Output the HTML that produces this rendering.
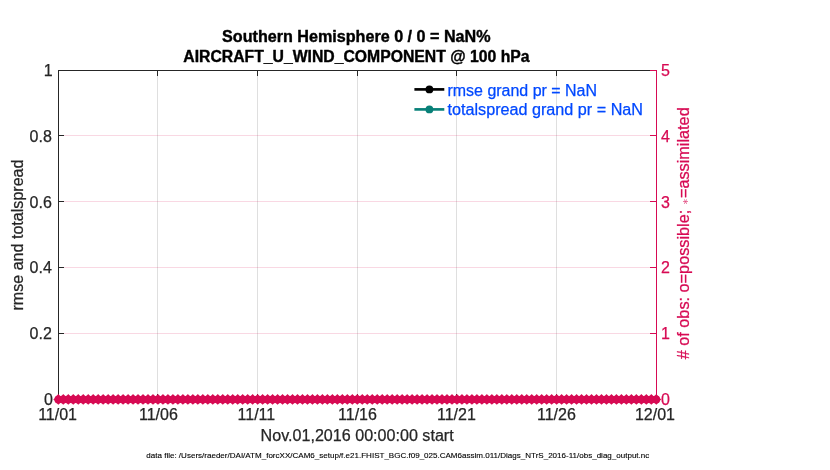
<!DOCTYPE html>
<html lang="en"><head><meta charset="utf-8"><title>obs_diag evolution</title>
<style>html,body{margin:0;padding:0;background:#fff;overflow:hidden}svg{display:block}text{font-family:"Liberation Sans",Arial,Helvetica,sans-serif;font-size:16px;fill:#262626;stroke:#262626;stroke-width:.25px;stroke-linejoin:round}.k{fill:#000;stroke:#000}.t{fill:#000;stroke:#000;stroke-width:.4px}.c{fill:#D70A53;stroke:#D70A53}.b{fill:#0048ff;stroke:#0048ff}.f{font-size:8px;fill:#000;stroke:#000;stroke-width:.12px}</style></head><body>
<svg width="830" height="470" viewBox="0 0 830 470">
<rect width="830" height="470" fill="#fff"/>
<g stroke="#262626" stroke-opacity="0.15" stroke-width="1" shape-rendering="crispEdges">
<line x1="157.5" y1="70.5" x2="157.5" y2="399.5"/>
<line x1="257.5" y1="70.5" x2="257.5" y2="399.5"/>
<line x1="357.5" y1="70.5" x2="357.5" y2="399.5"/>
<line x1="456.5" y1="70.5" x2="456.5" y2="399.5"/>
<line x1="556.5" y1="70.5" x2="556.5" y2="399.5"/>
</g>
<g stroke="#D70A53" stroke-opacity="0.16" stroke-width="1" shape-rendering="crispEdges">
<line x1="58.5" y1="135.5" x2="656.5" y2="135.5"/>
<line x1="58.5" y1="201.5" x2="656.5" y2="201.5"/>
<line x1="58.5" y1="267.5" x2="656.5" y2="267.5"/>
<line x1="58.5" y1="333.5" x2="656.5" y2="333.5"/>
</g>
<g stroke="#262626" stroke-width="1" fill="none" shape-rendering="crispEdges">
<path d="M58.0 70.5H656.5M58.0 399.5H656.5M58.5 70.0V400.0"/>
<line x1="157.5" y1="71.0" x2="157.5" y2="76.0"/>
<line x1="157.5" y1="399.0" x2="157.5" y2="394.0"/>
<line x1="257.5" y1="71.0" x2="257.5" y2="76.0"/>
<line x1="257.5" y1="399.0" x2="257.5" y2="394.0"/>
<line x1="357.5" y1="71.0" x2="357.5" y2="76.0"/>
<line x1="357.5" y1="399.0" x2="357.5" y2="394.0"/>
<line x1="456.5" y1="71.0" x2="456.5" y2="76.0"/>
<line x1="456.5" y1="399.0" x2="456.5" y2="394.0"/>
<line x1="556.5" y1="71.0" x2="556.5" y2="76.0"/>
<line x1="556.5" y1="399.0" x2="556.5" y2="394.0"/>
<line x1="59.0" y1="135.5" x2="64.0" y2="135.5"/>
<line x1="59.0" y1="201.5" x2="64.0" y2="201.5"/>
<line x1="59.0" y1="267.5" x2="64.0" y2="267.5"/>
<line x1="59.0" y1="333.5" x2="64.0" y2="333.5"/>
</g>
<g stroke="#D70A53" stroke-width="1" fill="none" shape-rendering="crispEdges">
<line x1="656.5" y1="70.0" x2="656.5" y2="400.0"/>
<line x1="650.0" y1="70.5" x2="656.0" y2="70.5"/>
<line x1="650.0" y1="135.5" x2="656.0" y2="135.5"/>
<line x1="650.0" y1="201.5" x2="656.0" y2="201.5"/>
<line x1="650.0" y1="267.5" x2="656.0" y2="267.5"/>
<line x1="650.0" y1="333.5" x2="656.0" y2="333.5"/>
<line x1="650.0" y1="399.5" x2="656.0" y2="399.5"/>
</g>
<g fill="#D70A53" stroke="none">
<circle cx="58.30" cy="399.45" r="3.9"/>
<circle cx="63.28" cy="399.45" r="3.9"/>
<circle cx="68.27" cy="399.45" r="3.9"/>
<circle cx="73.25" cy="399.45" r="3.9"/>
<circle cx="78.23" cy="399.45" r="3.9"/>
<circle cx="83.22" cy="399.45" r="3.9"/>
<circle cx="88.20" cy="399.45" r="3.9"/>
<circle cx="93.18" cy="399.45" r="3.9"/>
<circle cx="98.17" cy="399.45" r="3.9"/>
<circle cx="103.15" cy="399.45" r="3.9"/>
<circle cx="108.13" cy="399.45" r="3.9"/>
<circle cx="113.12" cy="399.45" r="3.9"/>
<circle cx="118.10" cy="399.45" r="3.9"/>
<circle cx="123.08" cy="399.45" r="3.9"/>
<circle cx="128.07" cy="399.45" r="3.9"/>
<circle cx="133.05" cy="399.45" r="3.9"/>
<circle cx="138.03" cy="399.45" r="3.9"/>
<circle cx="143.02" cy="399.45" r="3.9"/>
<circle cx="148.00" cy="399.45" r="3.9"/>
<circle cx="152.98" cy="399.45" r="3.9"/>
<circle cx="157.97" cy="399.45" r="3.9"/>
<circle cx="162.95" cy="399.45" r="3.9"/>
<circle cx="167.93" cy="399.45" r="3.9"/>
<circle cx="172.92" cy="399.45" r="3.9"/>
<circle cx="177.90" cy="399.45" r="3.9"/>
<circle cx="182.88" cy="399.45" r="3.9"/>
<circle cx="187.87" cy="399.45" r="3.9"/>
<circle cx="192.85" cy="399.45" r="3.9"/>
<circle cx="197.83" cy="399.45" r="3.9"/>
<circle cx="202.82" cy="399.45" r="3.9"/>
<circle cx="207.80" cy="399.45" r="3.9"/>
<circle cx="212.78" cy="399.45" r="3.9"/>
<circle cx="217.77" cy="399.45" r="3.9"/>
<circle cx="222.75" cy="399.45" r="3.9"/>
<circle cx="227.73" cy="399.45" r="3.9"/>
<circle cx="232.72" cy="399.45" r="3.9"/>
<circle cx="237.70" cy="399.45" r="3.9"/>
<circle cx="242.68" cy="399.45" r="3.9"/>
<circle cx="247.67" cy="399.45" r="3.9"/>
<circle cx="252.65" cy="399.45" r="3.9"/>
<circle cx="257.63" cy="399.45" r="3.9"/>
<circle cx="262.62" cy="399.45" r="3.9"/>
<circle cx="267.60" cy="399.45" r="3.9"/>
<circle cx="272.58" cy="399.45" r="3.9"/>
<circle cx="277.57" cy="399.45" r="3.9"/>
<circle cx="282.55" cy="399.45" r="3.9"/>
<circle cx="287.53" cy="399.45" r="3.9"/>
<circle cx="292.52" cy="399.45" r="3.9"/>
<circle cx="297.50" cy="399.45" r="3.9"/>
<circle cx="302.48" cy="399.45" r="3.9"/>
<circle cx="307.47" cy="399.45" r="3.9"/>
<circle cx="312.45" cy="399.45" r="3.9"/>
<circle cx="317.43" cy="399.45" r="3.9"/>
<circle cx="322.42" cy="399.45" r="3.9"/>
<circle cx="327.40" cy="399.45" r="3.9"/>
<circle cx="332.38" cy="399.45" r="3.9"/>
<circle cx="337.37" cy="399.45" r="3.9"/>
<circle cx="342.35" cy="399.45" r="3.9"/>
<circle cx="347.33" cy="399.45" r="3.9"/>
<circle cx="352.32" cy="399.45" r="3.9"/>
<circle cx="357.30" cy="399.45" r="3.9"/>
<circle cx="362.28" cy="399.45" r="3.9"/>
<circle cx="367.27" cy="399.45" r="3.9"/>
<circle cx="372.25" cy="399.45" r="3.9"/>
<circle cx="377.23" cy="399.45" r="3.9"/>
<circle cx="382.22" cy="399.45" r="3.9"/>
<circle cx="387.20" cy="399.45" r="3.9"/>
<circle cx="392.18" cy="399.45" r="3.9"/>
<circle cx="397.17" cy="399.45" r="3.9"/>
<circle cx="402.15" cy="399.45" r="3.9"/>
<circle cx="407.13" cy="399.45" r="3.9"/>
<circle cx="412.12" cy="399.45" r="3.9"/>
<circle cx="417.10" cy="399.45" r="3.9"/>
<circle cx="422.08" cy="399.45" r="3.9"/>
<circle cx="427.07" cy="399.45" r="3.9"/>
<circle cx="432.05" cy="399.45" r="3.9"/>
<circle cx="437.03" cy="399.45" r="3.9"/>
<circle cx="442.02" cy="399.45" r="3.9"/>
<circle cx="447.00" cy="399.45" r="3.9"/>
<circle cx="451.98" cy="399.45" r="3.9"/>
<circle cx="456.97" cy="399.45" r="3.9"/>
<circle cx="461.95" cy="399.45" r="3.9"/>
<circle cx="466.93" cy="399.45" r="3.9"/>
<circle cx="471.92" cy="399.45" r="3.9"/>
<circle cx="476.90" cy="399.45" r="3.9"/>
<circle cx="481.88" cy="399.45" r="3.9"/>
<circle cx="486.87" cy="399.45" r="3.9"/>
<circle cx="491.85" cy="399.45" r="3.9"/>
<circle cx="496.83" cy="399.45" r="3.9"/>
<circle cx="501.82" cy="399.45" r="3.9"/>
<circle cx="506.80" cy="399.45" r="3.9"/>
<circle cx="511.78" cy="399.45" r="3.9"/>
<circle cx="516.77" cy="399.45" r="3.9"/>
<circle cx="521.75" cy="399.45" r="3.9"/>
<circle cx="526.73" cy="399.45" r="3.9"/>
<circle cx="531.72" cy="399.45" r="3.9"/>
<circle cx="536.70" cy="399.45" r="3.9"/>
<circle cx="541.68" cy="399.45" r="3.9"/>
<circle cx="546.67" cy="399.45" r="3.9"/>
<circle cx="551.65" cy="399.45" r="3.9"/>
<circle cx="556.63" cy="399.45" r="3.9"/>
<circle cx="561.62" cy="399.45" r="3.9"/>
<circle cx="566.60" cy="399.45" r="3.9"/>
<circle cx="571.58" cy="399.45" r="3.9"/>
<circle cx="576.57" cy="399.45" r="3.9"/>
<circle cx="581.55" cy="399.45" r="3.9"/>
<circle cx="586.53" cy="399.45" r="3.9"/>
<circle cx="591.52" cy="399.45" r="3.9"/>
<circle cx="596.50" cy="399.45" r="3.9"/>
<circle cx="601.48" cy="399.45" r="3.9"/>
<circle cx="606.47" cy="399.45" r="3.9"/>
<circle cx="611.45" cy="399.45" r="3.9"/>
<circle cx="616.43" cy="399.45" r="3.9"/>
<circle cx="621.42" cy="399.45" r="3.9"/>
<circle cx="626.40" cy="399.45" r="3.9"/>
<circle cx="631.38" cy="399.45" r="3.9"/>
<circle cx="636.37" cy="399.45" r="3.9"/>
<circle cx="641.35" cy="399.45" r="3.9"/>
<circle cx="646.33" cy="399.45" r="3.9"/>
<circle cx="651.32" cy="399.45" r="3.9"/>
<circle cx="656.30" cy="399.45" r="3.9"/>
<path d="M58.30 394.05l2.5 2.65v5.5l-2.5 2.65l-2.5 -2.65v-5.5z"/>
<path d="M63.28 394.05l2.5 2.65v5.5l-2.5 2.65l-2.5 -2.65v-5.5z"/>
<path d="M68.27 394.05l2.5 2.65v5.5l-2.5 2.65l-2.5 -2.65v-5.5z"/>
<path d="M73.25 394.05l2.5 2.65v5.5l-2.5 2.65l-2.5 -2.65v-5.5z"/>
<path d="M78.23 394.05l2.5 2.65v5.5l-2.5 2.65l-2.5 -2.65v-5.5z"/>
<path d="M83.22 394.05l2.5 2.65v5.5l-2.5 2.65l-2.5 -2.65v-5.5z"/>
<path d="M88.20 394.05l2.5 2.65v5.5l-2.5 2.65l-2.5 -2.65v-5.5z"/>
<path d="M93.18 394.05l2.5 2.65v5.5l-2.5 2.65l-2.5 -2.65v-5.5z"/>
<path d="M98.17 394.05l2.5 2.65v5.5l-2.5 2.65l-2.5 -2.65v-5.5z"/>
<path d="M103.15 394.05l2.5 2.65v5.5l-2.5 2.65l-2.5 -2.65v-5.5z"/>
<path d="M108.13 394.05l2.5 2.65v5.5l-2.5 2.65l-2.5 -2.65v-5.5z"/>
<path d="M113.12 394.05l2.5 2.65v5.5l-2.5 2.65l-2.5 -2.65v-5.5z"/>
<path d="M118.10 394.05l2.5 2.65v5.5l-2.5 2.65l-2.5 -2.65v-5.5z"/>
<path d="M123.08 394.05l2.5 2.65v5.5l-2.5 2.65l-2.5 -2.65v-5.5z"/>
<path d="M128.07 394.05l2.5 2.65v5.5l-2.5 2.65l-2.5 -2.65v-5.5z"/>
<path d="M133.05 394.05l2.5 2.65v5.5l-2.5 2.65l-2.5 -2.65v-5.5z"/>
<path d="M138.03 394.05l2.5 2.65v5.5l-2.5 2.65l-2.5 -2.65v-5.5z"/>
<path d="M143.02 394.05l2.5 2.65v5.5l-2.5 2.65l-2.5 -2.65v-5.5z"/>
<path d="M148.00 394.05l2.5 2.65v5.5l-2.5 2.65l-2.5 -2.65v-5.5z"/>
<path d="M152.98 394.05l2.5 2.65v5.5l-2.5 2.65l-2.5 -2.65v-5.5z"/>
<path d="M157.97 394.05l2.5 2.65v5.5l-2.5 2.65l-2.5 -2.65v-5.5z"/>
<path d="M162.95 394.05l2.5 2.65v5.5l-2.5 2.65l-2.5 -2.65v-5.5z"/>
<path d="M167.93 394.05l2.5 2.65v5.5l-2.5 2.65l-2.5 -2.65v-5.5z"/>
<path d="M172.92 394.05l2.5 2.65v5.5l-2.5 2.65l-2.5 -2.65v-5.5z"/>
<path d="M177.90 394.05l2.5 2.65v5.5l-2.5 2.65l-2.5 -2.65v-5.5z"/>
<path d="M182.88 394.05l2.5 2.65v5.5l-2.5 2.65l-2.5 -2.65v-5.5z"/>
<path d="M187.87 394.05l2.5 2.65v5.5l-2.5 2.65l-2.5 -2.65v-5.5z"/>
<path d="M192.85 394.05l2.5 2.65v5.5l-2.5 2.65l-2.5 -2.65v-5.5z"/>
<path d="M197.83 394.05l2.5 2.65v5.5l-2.5 2.65l-2.5 -2.65v-5.5z"/>
<path d="M202.82 394.05l2.5 2.65v5.5l-2.5 2.65l-2.5 -2.65v-5.5z"/>
<path d="M207.80 394.05l2.5 2.65v5.5l-2.5 2.65l-2.5 -2.65v-5.5z"/>
<path d="M212.78 394.05l2.5 2.65v5.5l-2.5 2.65l-2.5 -2.65v-5.5z"/>
<path d="M217.77 394.05l2.5 2.65v5.5l-2.5 2.65l-2.5 -2.65v-5.5z"/>
<path d="M222.75 394.05l2.5 2.65v5.5l-2.5 2.65l-2.5 -2.65v-5.5z"/>
<path d="M227.73 394.05l2.5 2.65v5.5l-2.5 2.65l-2.5 -2.65v-5.5z"/>
<path d="M232.72 394.05l2.5 2.65v5.5l-2.5 2.65l-2.5 -2.65v-5.5z"/>
<path d="M237.70 394.05l2.5 2.65v5.5l-2.5 2.65l-2.5 -2.65v-5.5z"/>
<path d="M242.68 394.05l2.5 2.65v5.5l-2.5 2.65l-2.5 -2.65v-5.5z"/>
<path d="M247.67 394.05l2.5 2.65v5.5l-2.5 2.65l-2.5 -2.65v-5.5z"/>
<path d="M252.65 394.05l2.5 2.65v5.5l-2.5 2.65l-2.5 -2.65v-5.5z"/>
<path d="M257.63 394.05l2.5 2.65v5.5l-2.5 2.65l-2.5 -2.65v-5.5z"/>
<path d="M262.62 394.05l2.5 2.65v5.5l-2.5 2.65l-2.5 -2.65v-5.5z"/>
<path d="M267.60 394.05l2.5 2.65v5.5l-2.5 2.65l-2.5 -2.65v-5.5z"/>
<path d="M272.58 394.05l2.5 2.65v5.5l-2.5 2.65l-2.5 -2.65v-5.5z"/>
<path d="M277.57 394.05l2.5 2.65v5.5l-2.5 2.65l-2.5 -2.65v-5.5z"/>
<path d="M282.55 394.05l2.5 2.65v5.5l-2.5 2.65l-2.5 -2.65v-5.5z"/>
<path d="M287.53 394.05l2.5 2.65v5.5l-2.5 2.65l-2.5 -2.65v-5.5z"/>
<path d="M292.52 394.05l2.5 2.65v5.5l-2.5 2.65l-2.5 -2.65v-5.5z"/>
<path d="M297.50 394.05l2.5 2.65v5.5l-2.5 2.65l-2.5 -2.65v-5.5z"/>
<path d="M302.48 394.05l2.5 2.65v5.5l-2.5 2.65l-2.5 -2.65v-5.5z"/>
<path d="M307.47 394.05l2.5 2.65v5.5l-2.5 2.65l-2.5 -2.65v-5.5z"/>
<path d="M312.45 394.05l2.5 2.65v5.5l-2.5 2.65l-2.5 -2.65v-5.5z"/>
<path d="M317.43 394.05l2.5 2.65v5.5l-2.5 2.65l-2.5 -2.65v-5.5z"/>
<path d="M322.42 394.05l2.5 2.65v5.5l-2.5 2.65l-2.5 -2.65v-5.5z"/>
<path d="M327.40 394.05l2.5 2.65v5.5l-2.5 2.65l-2.5 -2.65v-5.5z"/>
<path d="M332.38 394.05l2.5 2.65v5.5l-2.5 2.65l-2.5 -2.65v-5.5z"/>
<path d="M337.37 394.05l2.5 2.65v5.5l-2.5 2.65l-2.5 -2.65v-5.5z"/>
<path d="M342.35 394.05l2.5 2.65v5.5l-2.5 2.65l-2.5 -2.65v-5.5z"/>
<path d="M347.33 394.05l2.5 2.65v5.5l-2.5 2.65l-2.5 -2.65v-5.5z"/>
<path d="M352.32 394.05l2.5 2.65v5.5l-2.5 2.65l-2.5 -2.65v-5.5z"/>
<path d="M357.30 394.05l2.5 2.65v5.5l-2.5 2.65l-2.5 -2.65v-5.5z"/>
<path d="M362.28 394.05l2.5 2.65v5.5l-2.5 2.65l-2.5 -2.65v-5.5z"/>
<path d="M367.27 394.05l2.5 2.65v5.5l-2.5 2.65l-2.5 -2.65v-5.5z"/>
<path d="M372.25 394.05l2.5 2.65v5.5l-2.5 2.65l-2.5 -2.65v-5.5z"/>
<path d="M377.23 394.05l2.5 2.65v5.5l-2.5 2.65l-2.5 -2.65v-5.5z"/>
<path d="M382.22 394.05l2.5 2.65v5.5l-2.5 2.65l-2.5 -2.65v-5.5z"/>
<path d="M387.20 394.05l2.5 2.65v5.5l-2.5 2.65l-2.5 -2.65v-5.5z"/>
<path d="M392.18 394.05l2.5 2.65v5.5l-2.5 2.65l-2.5 -2.65v-5.5z"/>
<path d="M397.17 394.05l2.5 2.65v5.5l-2.5 2.65l-2.5 -2.65v-5.5z"/>
<path d="M402.15 394.05l2.5 2.65v5.5l-2.5 2.65l-2.5 -2.65v-5.5z"/>
<path d="M407.13 394.05l2.5 2.65v5.5l-2.5 2.65l-2.5 -2.65v-5.5z"/>
<path d="M412.12 394.05l2.5 2.65v5.5l-2.5 2.65l-2.5 -2.65v-5.5z"/>
<path d="M417.10 394.05l2.5 2.65v5.5l-2.5 2.65l-2.5 -2.65v-5.5z"/>
<path d="M422.08 394.05l2.5 2.65v5.5l-2.5 2.65l-2.5 -2.65v-5.5z"/>
<path d="M427.07 394.05l2.5 2.65v5.5l-2.5 2.65l-2.5 -2.65v-5.5z"/>
<path d="M432.05 394.05l2.5 2.65v5.5l-2.5 2.65l-2.5 -2.65v-5.5z"/>
<path d="M437.03 394.05l2.5 2.65v5.5l-2.5 2.65l-2.5 -2.65v-5.5z"/>
<path d="M442.02 394.05l2.5 2.65v5.5l-2.5 2.65l-2.5 -2.65v-5.5z"/>
<path d="M447.00 394.05l2.5 2.65v5.5l-2.5 2.65l-2.5 -2.65v-5.5z"/>
<path d="M451.98 394.05l2.5 2.65v5.5l-2.5 2.65l-2.5 -2.65v-5.5z"/>
<path d="M456.97 394.05l2.5 2.65v5.5l-2.5 2.65l-2.5 -2.65v-5.5z"/>
<path d="M461.95 394.05l2.5 2.65v5.5l-2.5 2.65l-2.5 -2.65v-5.5z"/>
<path d="M466.93 394.05l2.5 2.65v5.5l-2.5 2.65l-2.5 -2.65v-5.5z"/>
<path d="M471.92 394.05l2.5 2.65v5.5l-2.5 2.65l-2.5 -2.65v-5.5z"/>
<path d="M476.90 394.05l2.5 2.65v5.5l-2.5 2.65l-2.5 -2.65v-5.5z"/>
<path d="M481.88 394.05l2.5 2.65v5.5l-2.5 2.65l-2.5 -2.65v-5.5z"/>
<path d="M486.87 394.05l2.5 2.65v5.5l-2.5 2.65l-2.5 -2.65v-5.5z"/>
<path d="M491.85 394.05l2.5 2.65v5.5l-2.5 2.65l-2.5 -2.65v-5.5z"/>
<path d="M496.83 394.05l2.5 2.65v5.5l-2.5 2.65l-2.5 -2.65v-5.5z"/>
<path d="M501.82 394.05l2.5 2.65v5.5l-2.5 2.65l-2.5 -2.65v-5.5z"/>
<path d="M506.80 394.05l2.5 2.65v5.5l-2.5 2.65l-2.5 -2.65v-5.5z"/>
<path d="M511.78 394.05l2.5 2.65v5.5l-2.5 2.65l-2.5 -2.65v-5.5z"/>
<path d="M516.77 394.05l2.5 2.65v5.5l-2.5 2.65l-2.5 -2.65v-5.5z"/>
<path d="M521.75 394.05l2.5 2.65v5.5l-2.5 2.65l-2.5 -2.65v-5.5z"/>
<path d="M526.73 394.05l2.5 2.65v5.5l-2.5 2.65l-2.5 -2.65v-5.5z"/>
<path d="M531.72 394.05l2.5 2.65v5.5l-2.5 2.65l-2.5 -2.65v-5.5z"/>
<path d="M536.70 394.05l2.5 2.65v5.5l-2.5 2.65l-2.5 -2.65v-5.5z"/>
<path d="M541.68 394.05l2.5 2.65v5.5l-2.5 2.65l-2.5 -2.65v-5.5z"/>
<path d="M546.67 394.05l2.5 2.65v5.5l-2.5 2.65l-2.5 -2.65v-5.5z"/>
<path d="M551.65 394.05l2.5 2.65v5.5l-2.5 2.65l-2.5 -2.65v-5.5z"/>
<path d="M556.63 394.05l2.5 2.65v5.5l-2.5 2.65l-2.5 -2.65v-5.5z"/>
<path d="M561.62 394.05l2.5 2.65v5.5l-2.5 2.65l-2.5 -2.65v-5.5z"/>
<path d="M566.60 394.05l2.5 2.65v5.5l-2.5 2.65l-2.5 -2.65v-5.5z"/>
<path d="M571.58 394.05l2.5 2.65v5.5l-2.5 2.65l-2.5 -2.65v-5.5z"/>
<path d="M576.57 394.05l2.5 2.65v5.5l-2.5 2.65l-2.5 -2.65v-5.5z"/>
<path d="M581.55 394.05l2.5 2.65v5.5l-2.5 2.65l-2.5 -2.65v-5.5z"/>
<path d="M586.53 394.05l2.5 2.65v5.5l-2.5 2.65l-2.5 -2.65v-5.5z"/>
<path d="M591.52 394.05l2.5 2.65v5.5l-2.5 2.65l-2.5 -2.65v-5.5z"/>
<path d="M596.50 394.05l2.5 2.65v5.5l-2.5 2.65l-2.5 -2.65v-5.5z"/>
<path d="M601.48 394.05l2.5 2.65v5.5l-2.5 2.65l-2.5 -2.65v-5.5z"/>
<path d="M606.47 394.05l2.5 2.65v5.5l-2.5 2.65l-2.5 -2.65v-5.5z"/>
<path d="M611.45 394.05l2.5 2.65v5.5l-2.5 2.65l-2.5 -2.65v-5.5z"/>
<path d="M616.43 394.05l2.5 2.65v5.5l-2.5 2.65l-2.5 -2.65v-5.5z"/>
<path d="M621.42 394.05l2.5 2.65v5.5l-2.5 2.65l-2.5 -2.65v-5.5z"/>
<path d="M626.40 394.05l2.5 2.65v5.5l-2.5 2.65l-2.5 -2.65v-5.5z"/>
<path d="M631.38 394.05l2.5 2.65v5.5l-2.5 2.65l-2.5 -2.65v-5.5z"/>
<path d="M636.37 394.05l2.5 2.65v5.5l-2.5 2.65l-2.5 -2.65v-5.5z"/>
<path d="M641.35 394.05l2.5 2.65v5.5l-2.5 2.65l-2.5 -2.65v-5.5z"/>
<path d="M646.33 394.05l2.5 2.65v5.5l-2.5 2.65l-2.5 -2.65v-5.5z"/>
<path d="M651.32 394.05l2.5 2.65v5.5l-2.5 2.65l-2.5 -2.65v-5.5z"/>
<path d="M656.30 394.05l2.5 2.65v5.5l-2.5 2.65l-2.5 -2.65v-5.5z"/>
<path d="M53.30 399.45l3 -2.4v4.8z"/>
<path d="M661.30 399.45l-3 -2.4v4.8z"/>
</g>
<text x="356.3" y="42" text-anchor="middle" font-weight="bold" class="t" textLength="268.5" lengthAdjust="spacingAndGlyphs">Southern Hemisphere 0 / 0 = NaN%</text>
<text x="356.4" y="61.5" text-anchor="middle" font-weight="bold" class="t" textLength="346.3" lengthAdjust="spacingAndGlyphs">AIRCRAFT_U_WIND_COMPONENT @ 100 hPa</text>
<text x="52.7" y="76.0" text-anchor="end">1</text>
<text x="51.8" y="141.8" text-anchor="end">0.8</text>
<text x="51.8" y="207.6" text-anchor="end">0.6</text>
<text x="51.8" y="273.4" text-anchor="end">0.4</text>
<text x="51.8" y="339.2" text-anchor="end">0.2</text>
<text x="53.0" y="405.0" text-anchor="end">0</text>
<text x="661.0" y="76.0" class="c">5</text>
<text x="661.0" y="141.8" class="c">4</text>
<text x="661.0" y="207.6" class="c">3</text>
<text x="661.0" y="273.4" class="c">2</text>
<text x="661.0" y="339.2" class="c">1</text>
<text x="661.0" y="405.0" class="c">0</text>
<text x="57.6" y="420" text-anchor="middle">11/01</text>
<text x="158.4" y="420" text-anchor="middle">11/06</text>
<text x="256.4" y="420" text-anchor="middle">11/11</text>
<text x="357.5" y="420" text-anchor="middle">11/16</text>
<text x="456.4" y="420" text-anchor="middle">11/21</text>
<text x="556.4" y="420" text-anchor="middle">11/26</text>
<text x="655.0" y="420" text-anchor="middle">12/01</text>
<text x="357.15" y="440.7" text-anchor="middle" textLength="193.1" lengthAdjust="spacingAndGlyphs">Nov.01,2016 00:00:00 start</text>
<text transform="translate(23.2 235) rotate(-90)" text-anchor="middle" textLength="151" lengthAdjust="spacingAndGlyphs">rmse and totalspread</text>
<text transform="translate(689.3 233.3) rotate(-90)" text-anchor="middle" class="c" textLength="252" lengthAdjust="spacingAndGlyphs"># of obs: o=possible; <tspan font-size="8" dy="-1.3" stroke="none" fill-opacity="0.7">∗</tspan><tspan dy="1.3">=assimilated</tspan></text>
<g stroke-width="2.67" stroke-linecap="butt">
<line x1="414.4" y1="89.4" x2="444.3" y2="89.4" stroke="#000"/><circle cx="429.4" cy="89.4" r="3.9" fill="#000"/>
<line x1="414.4" y1="109.4" x2="444.3" y2="109.4" stroke="#088078"/><circle cx="429.4" cy="109.4" r="3.9" fill="#088078"/>
</g>
<text x="447.5" y="95.6" class="b" textLength="149.5" lengthAdjust="spacingAndGlyphs">rmse grand pr = NaN</text>
<text x="447.5" y="115.4" class="b" textLength="195.5" lengthAdjust="spacingAndGlyphs">totalspread grand pr = NaN</text>
<text x="146.3" y="458" class="f" textLength="503" lengthAdjust="spacingAndGlyphs">data file: /Users/raeder/DAI/ATM_forcXX/CAM6_setup/f.e21.FHIST_BGC.f09_025.CAM6assim.011/Diags_NTrS_2016-11/obs_diag_output.nc</text>
</svg></body></html>
